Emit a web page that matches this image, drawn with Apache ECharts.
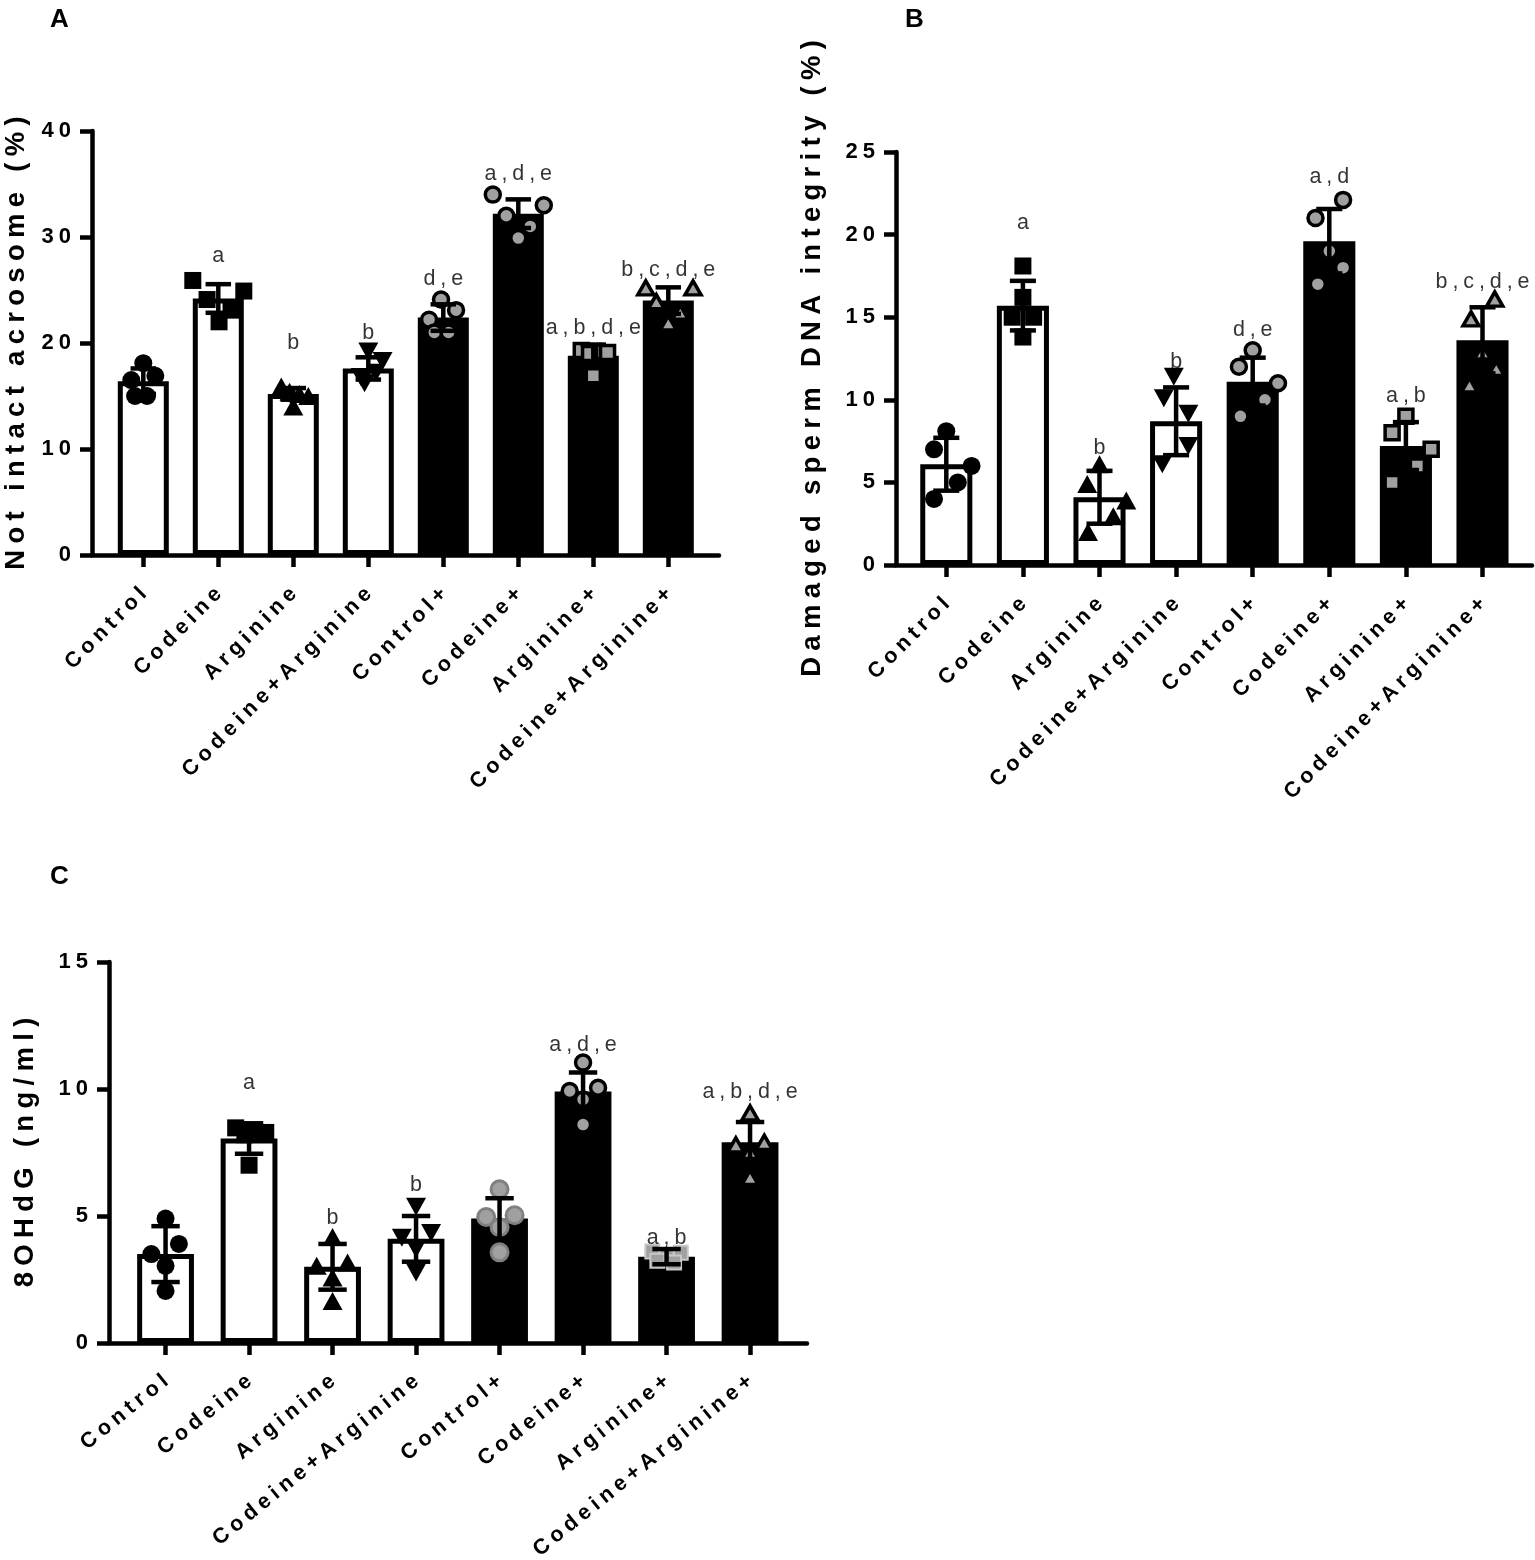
<!DOCTYPE html>
<html>
<head>
<meta charset="utf-8">
<title>Acrosome, DNA integrity and 8OHdG</title>
<script src="https://cdn.jsdelivr.net/npm/echarts@6/dist/echarts.min.js"></script>
<style>
  html, body { margin: 0; background: #fff; }
  #chart { width: 1535px; height: 1560px; }
</style>
</head>
<body>
<div id="chart"></div>
<script>
const groups = ['Control', 'Codeine', 'Arginine', 'Codeine+Arginine',
                'Control+', 'Codeine+', 'Arginine+', 'Codeine+Arginine+'];

// A: not intact acrosome (%)
const meanA = [16.4, 24.2, 15.2, 17.6, 22.4, 32.2, 18.8, 24.0];
const sdA = [1.2, 1.35, 0.55, 1.05, 1.25, 1.35, 1.05, 1.25];
const pointsA = [
  [18.1, 16.9, 16.5, 15.0, 15.0],
  [25.9, 24.9, 24.1, 23.1, 22.0],
  [15.9, 15.4, 15.2, 15.0, 14.0],
  [19.2, 18.3, 17.2, 16.8, 16.2],
  [24.1, 23.1, 22.2, 21.0, 21.0],
  [34.0, 33.0, 32.0, 31.0, 29.9],
  [19.3, 19.2, 19.1, 19.0, 16.9],
  [25.2, 25.2, 23.9, 22.9, 21.9]
];
const jitterA = [
  [0, 0.16, -0.16, -0.11, 0.05],
  [-0.34, 0.34, -0.15, 0.17, 0.01],
  [-0.16, -0.05, 0.08, 0.2, 0],
  [0, 0.19, 0.1, -0.1, -0.05],
  [-0.03, 0.17, -0.19, -0.12, 0.07],
  [-0.34, 0.34, -0.16, 0.16, 0],
  [-0.16, 0.02, 0.19, -0.05, 0],
  [-0.3, 0.33, -0.16, 0.16, 0]
];
const lettersA = ['', 'a', 'b', 'b', 'd,e', 'a,d,e', 'a,b,d,e', 'b,c,d,e'];
const letterYA = [null, 28.2, 20.0, 20.9, 26.0, 35.9, 21.4, 26.9];

// B: damaged sperm DNA integrity (%)
const meanB = [6.1, 15.7, 4.1, 8.7, 11.1, 19.6, 7.2, 13.6];
const sdB = [1.6, 1.5, 1.6, 2.05, 1.45, 1.95, 1.45, 2.0];
const pointsB = [
  [8.1, 7.0, 6.0, 5.0, 4.0],
  [18.1, 16.2, 15.0, 15.0, 13.8],
  [6.1, 4.9, 3.9, 2.95, 2.0],
  [11.4, 10.1, 9.15, 7.2, 6.1],
  [13.0, 12.0, 11.0, 10.0, 9.0],
  [22.1, 21.0, 19.0, 18.0, 17.0],
  [9.0, 8.0, 7.0, 6.0, 5.0],
  [16.1, 14.9, 12.9, 11.9, 10.9]
];
const jitterB = [
  [0, -0.16, 0.33, 0.15, -0.16],
  [0, 0, -0.14, 0.14, 0],
  [0, -0.16, 0.35, 0.18, -0.15],
  [-0.03, -0.16, 0.16, 0.16, -0.18],
  [0, -0.18, 0.33, 0.16, -0.16],
  [0.18, -0.18, 0, 0.18, -0.15],
  [0, -0.18, 0.33, 0.15, -0.18],
  [0.16, -0.15, 0, 0.18, -0.17]
];
const lettersB = ['', 'a', 'b', 'b', 'd,e', 'a,d', 'a,b', 'b,c,d,e'];
const letterYB = [null, 20.7, 7.1, 12.3, 14.2, 23.5, 10.2, 17.1];

// C: 8OHdG (ng/ml)
const meanC = [3.5, 8.05, 3.0, 4.1, 4.9, 9.9, 3.4, 7.9];
const sdC = [1.1, 0.6, 0.9, 0.9, 0.8, 0.75, 0.3, 0.8];
const pointsC = [
  [4.9, 3.9, 3.5, 3.04, 2.05],
  [8.47, 8.37, 8.29, 8.2, 7.0],
  [4.17, 3.04, 3.17, 2.58, 1.65],
  [5.36, 4.14, 4.33, 3.7, 2.78],
  [6.05, 4.96, 5.03, 4.56, 3.57],
  [11.04, 9.92, 10.05, 9.59, 8.6],
  [3.6, 3.55, 3.45, 3.24, 3.17],
  [9.06, 7.8, 7.9, 7.54, 6.52]
];
const jitterC = [
  [0, 0.16, -0.17, 0, 0],
  [-0.16, 0.02, 0.2, -0.05, 0],
  [0, -0.19, 0.18, 0, 0],
  [0, -0.17, 0.18, 0, 0],
  [0, -0.16, 0.18, 0, 0],
  [0, -0.16, 0.18, 0, 0],
  [-0.17, 0.17, 0, -0.11, 0.09],
  [0, -0.17, 0.17, 0, 0]
];
const lettersC = ['', 'a', 'b', 'b', '', 'a,d,e', 'a,b', 'a,b,d,e'];
const letterYC = [null, 10.25, 4.9, 6.2, null, 11.73, 4.14, 9.88];

// GraphPad prints everything with wide tracking; mimic it on the canvas.
// The trailing gap after the last glyph is pushed back so alignment stays put.
const baseFillText = CanvasRenderingContext2D.prototype.fillText;
CanvasRenderingContext2D.prototype.fillText = function (text, x, y, w) {
  const m = /(\d+(?:\.\d+)?)px/.exec(this.font);
  if (m && 'letterSpacing' in this) {
    const ls = m[1] * 0.23;
    this.letterSpacing = ls.toFixed(1) + 'px';
    if (this.textAlign === 'right' || this.textAlign === 'end') x += ls;
    else if (this.textAlign === 'center') x += ls / 2;
  }
  return w === undefined ? baseFillText.call(this, text, x, y) : baseFillText.call(this, text, x, y, w);
};

const FONT = 'Liberation Sans, Arial, sans-serif';
const GRAY = '#a0a0a0';

// marker per group: open bars get black marks, filled bars gray marks ringed in black
const marks = [
  {symbol: 'circle', size: 18, color: '#000'},
  {symbol: 'rect', size: 17, color: '#000'},
  {symbol: 'triangle', size: [20, 18], color: '#000'},
  {symbol: 'triangle', size: [20, 18], color: '#000', rotate: 180},
  {symbol: 'circle', size: 15, color: GRAY, border: '#000', bw: 3.5},
  {symbol: 'circle', size: 15, color: GRAY, border: '#000', bw: 3.5},
  {symbol: 'rect', size: 14, color: GRAY, border: '#000', bw: 3.5},
  {symbol: 'triangle', size: [16, 14], color: GRAY, border: '#000', bw: 3.5}
];
const marksC = marks.slice();
marksC[4] = {symbol: 'circle', size: 17, color: GRAY, border: '#808080', bw: 3};
marksC[6] = {symbol: 'rect', size: 14, color: GRAY, border: '#c8c8c8', bw: 2};

const panels = [
  {label: 'A', name: 'Not intact acrosome (%)', max: 40, step: 10, nameGap: 62, rotate: 45,
   frame: {left: 92, top: 131, width: 627, height: 424}, plotLeft: 105.8, band: 75,
   mean: meanA, sd: sdA, points: pointsA, jitter: jitterA, letters: lettersA, letterY: letterYA, marks: marks,
   title: {left: 45, top: 2}},
  {label: 'B', name: 'Damaged sperm DNA integrity (%)', max: 25, step: 5, nameGap: 70, rotate: 45,
   frame: {left: 896, top: 152, width: 636, height: 413}, plotLeft: 908, band: 76.6,
   mean: meanB, sd: sdB, points: pointsB, jitter: jitterB, letters: lettersB, letterY: letterYB, marks: marks,
   title: {left: 900, top: 2}},
  {label: 'C', name: '8OHdG (ng/ml)', max: 15, step: 5, nameGap: 70, rotate: 39,
   frame: {left: 109, top: 962, width: 698, height: 381}, plotLeft: 123.8, band: 83.5,
   mean: meanC, sd: sdC, points: pointsC, jitter: jitterC, letters: lettersC, letterY: letterYC, marks: marksC,
   title: {left: 45, top: 859}}
];

const axisStroke = {color: '#000', width: 4.5};
const option = {
  animation: false,
  backgroundColor: '#fff',
  title: [], grid: [], xAxis: [], yAxis: [], series: []
};

panels.forEach((p, k) => {
  const g = 2 * k, xa = 3 * k, ya = 2 * k;
  option.title.push({text: p.label, left: p.title.left, top: p.title.top,
    textStyle: {fontFamily: FONT, fontSize: 26, fontWeight: 'bold', color: '#000'}});

  // outer frame carries the y axis and the baseline; inner grid holds the bars
  option.grid.push(Object.assign({outerBoundsMode: 'none'}, p.frame));
  option.grid.push({outerBoundsMode: 'none', left: p.plotLeft, top: p.frame.top,
                    width: p.band * groups.length, height: p.frame.height});

  option.xAxis.push(
    {gridIndex: g, type: 'value', min: 0, max: 1,
     axisLine: {show: true, lineStyle: axisStroke}, axisTick: {show: false},
     axisLabel: {show: false}, splitLine: {show: false}},
    {gridIndex: g + 1, type: 'category', data: groups, boundaryGap: true,
     axisLine: {show: false},
     axisTick: {show: true, alignWithLabel: true, length: 12, lineStyle: axisStroke},
     axisLabel: {interval: 0, rotate: p.rotate, margin: 36, fontFamily: FONT, fontSize: 21.5,
                 fontWeight: 'bold', color: '#000'}},
    {gridIndex: g + 1, type: 'value', min: -0.5, max: groups.length - 0.5, show: false}
  );
  option.yAxis.push(
    {gridIndex: g, type: 'value', min: 0, max: p.max, interval: p.step,
     name: p.name, nameLocation: 'middle', nameGap: p.nameGap,
     nameTextStyle: {fontFamily: FONT, fontSize: 27.5, fontWeight: 'bold', color: '#000'},
     axisLine: {show: true, lineStyle: axisStroke},
     axisTick: {show: true, length: 12, lineStyle: axisStroke},
     axisLabel: {margin: 21, fontFamily: FONT, fontSize: 22, fontWeight: 'bold', color: '#000'},
     splitLine: {show: false}},
    {gridIndex: g + 1, type: 'value', min: 0, max: p.max, show: false}
  );

  option.series.push({
    type: 'bar', xAxisIndex: xa + 1, yAxisIndex: ya + 1, barWidth: '68%', z: 2,
    data: p.mean.map((v, i) => ({
      value: v,
      itemStyle: i < 4 ? {color: '#fff', borderColor: '#000', borderWidth: 5}
                       : {color: '#000', borderColor: '#000', borderWidth: 5}
    }))
  });

  const dots = [];
  p.points.forEach((vals, i) => {
    const m = p.marks[i];
    vals.forEach((v, j) => dots.push({
      value: [i + p.jitter[i][j], v],
      symbol: m.symbol, symbolSize: m.size, symbolRotate: m.rotate || 0,
      itemStyle: {color: m.color, borderColor: m.border || m.color, borderWidth: m.bw || 0, opacity: 1}
    }));
  });
  option.series.push({type: 'scatter', xAxisIndex: xa + 2, yAxisIndex: ya + 1, z: 3,
                      data: dots, emphasis: {disabled: true}});

  option.series.push({
    type: 'custom', xAxisIndex: xa + 1, yAxisIndex: ya + 1, z: 4,
    data: p.mean.map((v, i) => [i, v, p.sd[i]]),
    encode: {x: 0, y: 1},
    renderItem: (params, api) => {
      const x = api.value(0), m = api.value(1), s = api.value(2);
      const hi = api.coord([x, m + s]), lo = api.coord([x, m - s]);
      const half = p.band * 0.17;
      const style = {stroke: '#000', lineWidth: 4.5};
      return {type: 'group', children: [
        {type: 'line', shape: {x1: hi[0], y1: hi[1], x2: lo[0], y2: lo[1]}, style},
        {type: 'line', shape: {x1: hi[0] - half, y1: hi[1], x2: hi[0] + half, y2: hi[1]}, style},
        {type: 'line', shape: {x1: lo[0] - half, y1: lo[1], x2: lo[0] + half, y2: lo[1]}, style}
      ]};
    }
  });

  option.series.push({
    type: 'scatter', xAxisIndex: xa + 1, yAxisIndex: ya + 1, z: 5,
    symbolSize: 1, itemStyle: {color: 'transparent'}, emphasis: {disabled: true},
    data: p.letters.map((t, i) => ({value: [i, p.letterY[i]], name: t}))
                   .filter(d => d.name),
    label: {show: true, position: 'inside', formatter: '{b}',
            fontFamily: FONT, fontSize: 21.5, color: '#000'}
  });
});

const chart = echarts.init(document.getElementById('chart'));
chart.setOption(option);
</script>
</body>
</html>
